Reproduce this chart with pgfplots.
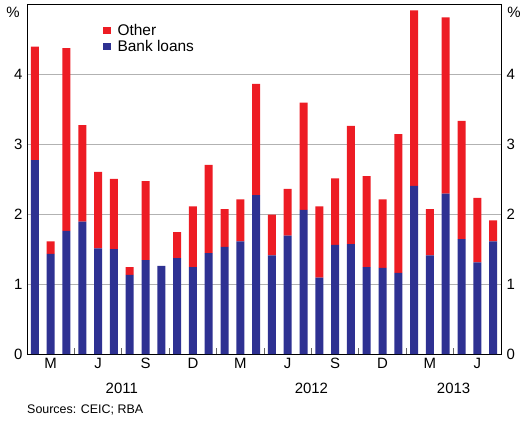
\documentclass[border=0pt]{standalone}
\usepackage{fontspec}
\setmainfont{Liberation Sans}
\usepackage{pgfplots}
\usepackage{pgfplotstable}
\pgfplotsset{compat=1.18}
\definecolor{rbared}{RGB}{237,28,36}
\definecolor{rbablue}{RGB}{46,49,146}
\pgfplotstableread{
x bank other
0 2.77 1.62
1 1.43 0.18
2 1.76 2.61
3 1.89 1.38
4 1.51 1.09
5 1.50 1.00
6 1.13 0.11
7 1.34 1.13
8 1.26 0.00
9 1.37 0.37
10 1.24 0.87
11 1.44 1.26
12 1.53 0.54
13 1.61 0.60
14 2.27 1.59
15 1.41 0.58
16 1.69 0.67
17 2.06 1.53
18 1.09 1.02
19 1.56 0.95
20 1.57 1.69
21 1.24 1.30
22 1.23 0.98
23 1.16 1.98
24 2.40 2.51
25 1.41 0.66
26 2.29 2.52
27 1.64 1.69
28 1.31 0.92
29 1.61 0.30
}\datatable
\begin{document}
\begin{tikzpicture}
\path[use as bounding box] (-27bp,-67bp) rectangle (493bp,354bp);
\begin{axis}[at={(0,0)}, anchor=south west,
  width=474bp, height=350bp, scale only axis,
  xmin=-0.5, xmax=29.5, ymin=0, ymax=5,
  ybar stacked, bar width=8bp,
  axis line style={black, line width=0.9bp},
  clip=false,
  /pgf/number format/assume math mode=true,
  ytick={0,1,2,3,4}, ytick pos=left, ymajorgrids,
  major grid style={black!30, line width=0.8bp},
  ytick style={draw=none},
  yticklabel style={font=\fontsize{15}{15}\selectfont, xshift=-1bp},
  xtick={1,4,...,28},
  xticklabels={M,J,S,D,M,J,S,D,M,J},
  minor xtick={2.5,5.5,...,26.5},
  xtick pos=lower, tick align=inside,
  major tick length=0pt, minor tick length=6bp,
  minor tick style={black!60, line width=0.8bp},
  xticklabel style={font=\fontsize{15}{15}\selectfont, yshift=-1bp},
  legend style={draw=none, fill=none, at={(0.16,0.948)}, anchor=north west,
    font=\fontsize{15.5}{16.5}\selectfont, inner sep=0pt, row sep=-1bp,
    /tikz/every odd column/.style={column sep=5bp}},
  legend cell align=left,
  reverse legend,
  legend image code/.code={\fill[#1] (0bp,-3.7bp) rectangle (7.5bp,3.7bp);},
]
\addplot[fill=rbablue, draw=none] table[x=x, y=bank] {\datatable};
\addlegendentry{Bank loans}
\addplot[fill=rbared, draw=none] table[x=x, y=other] {\datatable};
\addlegendentry{Other}
\node[font=\fontsize{15}{15}\selectfont] at (axis cs:5.5,0) [yshift=-34bp] {2011};
\node[font=\fontsize{15}{15}\selectfont] at (axis cs:17.5,0) [yshift=-34bp] {2012};
\node[font=\fontsize{15}{15}\selectfont] at (axis cs:26.5,0) [yshift=-34bp] {2013};
\node[font=\fontsize{12.5}{13}\selectfont, anchor=west, inner sep=0pt] at (rel axis cs:0,0) [yshift=-56bp] {Sources: CEIC; RBA};
\node[font=\fontsize{15}{15}\selectfont] at (rel axis cs:0,1) [xshift=-14bp, yshift=-8bp] {\%};
\node[font=\fontsize{15}{15}\selectfont] at (rel axis cs:1,1) [xshift=13bp, yshift=-8bp] {\%};
\end{axis}
\begin{axis}[at={(0,0)}, anchor=south west,
  width=474bp, height=350bp, scale only axis,
  xmin=-0.5, xmax=29.5, ymin=0, ymax=5,
  axis x line=none, axis y line*=right,
  axis line style={black, line width=0.9bp},
  /pgf/number format/assume math mode=true,
  ytick={0,1,2,3,4}, ytick style={draw=none},
  yticklabel style={font=\fontsize{15}{15}\selectfont, xshift=2bp},
]
\addplot[draw=none] coordinates {(0,0)};
\end{axis}
\end{tikzpicture}
\end{document}
